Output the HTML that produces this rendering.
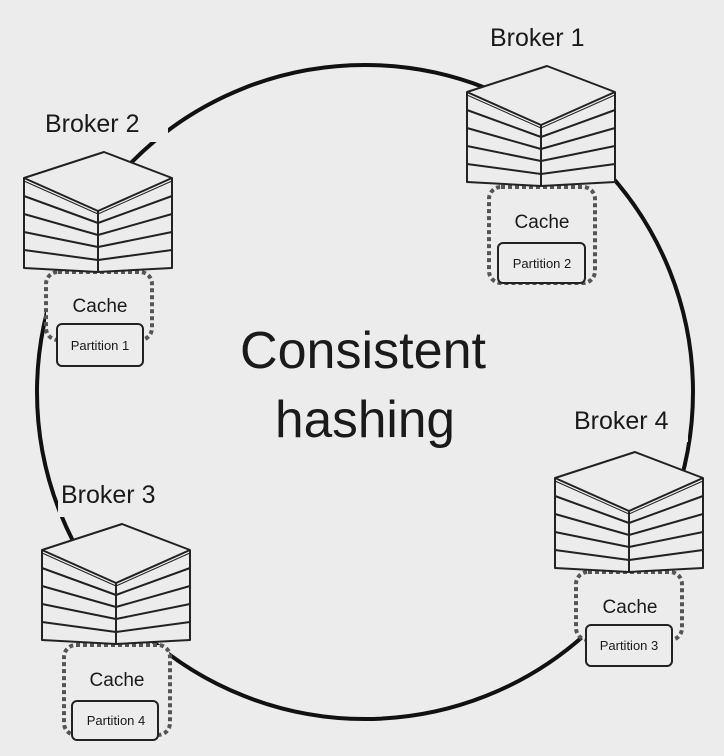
<!DOCTYPE html>
<html><head><meta charset="utf-8"><style>
html,body{margin:0;padding:0;background:#ececec;width:724px;height:756px;overflow:hidden}
svg{display:block}
text{font-family:"Liberation Sans",sans-serif;fill:#1a1a1a}
</style></head><body>
<svg width="724" height="756" viewBox="0 0 724 756">
<defs>
<g id="stack" fill="#ececec" stroke="#222" stroke-width="2" stroke-linejoin="round">
 <path d="M0,0 L80,-26 L148,0 L148,90 L74,94 L0,90 Z"/>
 <path d="M0,0 L74,33 L148,0" fill="none"/>
 <path d="M74,33 L74,94" fill="none"/>
 <path d="M0,18 L74,45 L148,18" fill="none"/>
 <path d="M0,36 L74,57 L148,36" fill="none"/>
 <path d="M0,54 L74,69 L148,54" fill="none"/>
 <path d="M0,72 L74,82 L148,72" fill="none"/>
 <path d="M0,3 L74,36 L148,3" fill="none" stroke-width="1"/>
</g>
</defs>
<rect width="724" height="756" fill="#ececec"/>
<ellipse cx="365" cy="392" rx="328" ry="327" fill="none" stroke="#111" stroke-width="4"/>
<!-- label backgrounds -->
<rect x="485" y="15" width="115" height="42" fill="#ececec"/>
<rect x="40" y="100" width="128" height="42" fill="#ececec"/>
<rect x="570" y="400" width="118" height="42" fill="#ececec"/>
<rect x="58" y="475" width="116" height="42" fill="#ececec"/>
<!-- cache areas -->
<g fill="#ececec" stroke="#555" stroke-width="4" stroke-dasharray="4,3">
 <rect x="489" y="187" width="106" height="96" rx="12"/>
 <rect x="46" y="272" width="106" height="68" rx="12"/>
 <rect x="64" y="645" width="106" height="90" rx="12"/>
 <rect x="576" y="572" width="106" height="68" rx="12"/>
</g>
<g fill="#ececec" stroke="#222" stroke-width="2">
 <rect x="498" y="243" width="87" height="40" rx="5"/>
 <rect x="57" y="324" width="86" height="42" rx="5"/>
 <rect x="72" y="701" width="86" height="39" rx="5"/>
 <rect x="586" y="625" width="86" height="41" rx="5"/>
</g>
<use href="#stack" transform="translate(467,92)"/>
<use href="#stack" transform="translate(24,178)"/>
<use href="#stack" transform="translate(42,550)"/>
<use href="#stack" transform="translate(555,478)"/>
<g font-size="25">
 <text x="490" y="46">Broker 1</text>
 <text x="45" y="132">Broker 2</text>
 <text x="61" y="503">Broker 3</text>
 <text x="574" y="429">Broker 4</text>
</g>
<g font-size="19" text-anchor="middle">
 <text x="542" y="228">Cache</text>
 <text x="100" y="312">Cache</text>
 <text x="117" y="686">Cache</text>
 <text x="630" y="613">Cache</text>
</g>
<g font-size="13" text-anchor="middle">
 <text x="542" y="268">Partition 2</text>
 <text x="100" y="350">Partition 1</text>
 <text x="116" y="725">Partition 4</text>
 <text x="629" y="650">Partition 3</text>
</g>
<g font-size="52" text-anchor="middle">
 <text x="363" y="368" textLength="246" lengthAdjust="spacingAndGlyphs">Consistent</text>
 <text x="365" y="437" textLength="180" lengthAdjust="spacingAndGlyphs">hashing</text>
</g>
</svg>
</body></html>
